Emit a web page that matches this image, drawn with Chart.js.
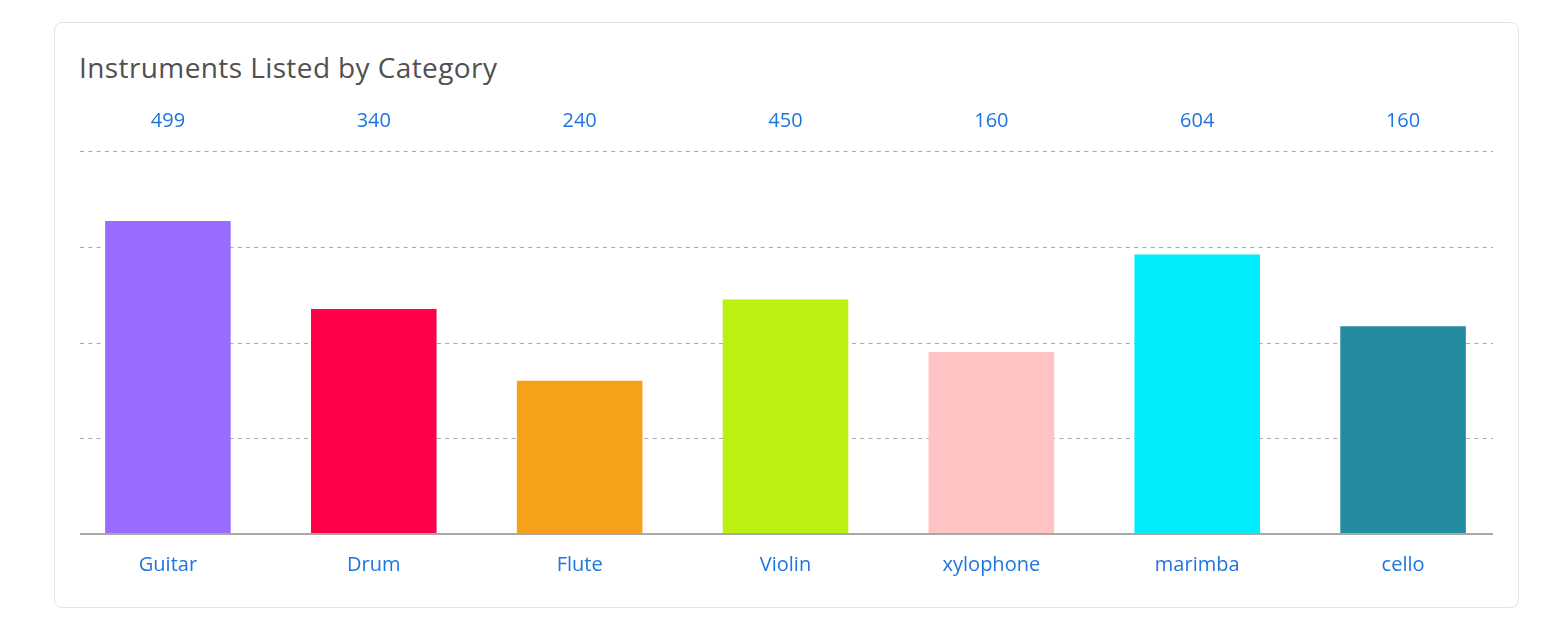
<!DOCTYPE html>
<html>
<head>
<meta charset="utf-8">
<script src="https://cdn.jsdelivr.net/npm/chart.js@4"></script>
<style>
  html, body { margin: 0; padding: 0; background: #ffffff; }
  body { width: 1558px; height: 639px; position: relative; overflow: hidden; font-family: "Open Sans", "Noto Sans", sans-serif; }
  #card { position: absolute; left: 54px; top: 22px; width: 1465px; height: 586px; box-sizing: border-box; border: 1.5px solid #e4e4e4; border-radius: 8px; background: #fff; }
  #title { position: absolute; left: 79px; top: 50px; font-size: 28px; line-height: 34px; color: #505050; font-weight: 500; letter-spacing: 0.4px; white-space: nowrap; }
  #wrap { position: absolute; left: 54px; top: 22px; width: 1464px; height: 585px; }
</style>
</head>
<body>
<div id="card"></div>
<div id="title">Instruments Listed by Category</div>
<div id="wrap"><canvas id="c"></canvas></div>
<script>
const categories = ["Guitar", "Drum", "Flute", "Violin", "xylophone", "marimba", "cello"];
const topLabels = ["499", "340", "240", "450", "160", "604", "160"];
const values = [327, 235, 160, 245, 190, 292, 217];
const barColors = ["#996cff", "#ff0049", "#f7a11a", "#bbf212", "#ffc3c3", "#00edfb", "#238ca1"];
const yTicks = [0, 100, 200, 300, 400];

const gridPlugin = {
  id: 'customGrid',
  beforeDatasetsDraw(chart) {
    const y = chart.scales.y;
    const a = chart.chartArea;
    const ctx = chart.ctx;
    ctx.save();
    ctx.strokeStyle = '#a9a9a9';
    ctx.lineWidth = 1.2;
    ctx.setLineDash([4, 4.3]);
    y.ticks.forEach(t => {
      if (t.value === yTicks[0]) return;
      const py = Math.round(y.getPixelForValue(t.value)) + 0.5;
      ctx.beginPath();
      ctx.moveTo(a.left + 15, py);
      ctx.lineTo(a.right - 13, py);
      ctx.stroke();
    });
    ctx.restore();
  },
  afterDatasetsDraw(chart) {
    const y = chart.scales.y;
    const a = chart.chartArea;
    const ctx = chart.ctx;
    ctx.save();
    ctx.strokeStyle = '#a8a8a8';
    ctx.lineWidth = 2;
    const py = y.getPixelForValue(yTicks[0]);
    ctx.beginPath();
    ctx.moveTo(a.left + 15, py);
    ctx.lineTo(a.right - 13, py);
    ctx.stroke();
    ctx.restore();
  }
};

const labelFont = { family: "'Open Sans', 'Noto Sans', sans-serif", size: 20, lineHeight: 1.2 };

new Chart(document.getElementById('c'), {
  type: 'bar',
  data: {
    labels: categories,
    datasets: [{
      data: values,
      backgroundColor: barColors,
      borderWidth: 0,
      xAxisID: 'x',
      yAxisID: 'y',
      categoryPercentage: 1,
      barPercentage: 0.61
    }]
  },
  options: {
    responsive: true,
    maintainAspectRatio: false,
    animation: false,
    layout: { padding: { top: 69, bottom: 11, left: 11, right: 12 } },
    plugins: { legend: { display: false }, tooltip: { enabled: false }, title: { display: false } },
    scales: {
      x: {
        type: 'category',
        position: 'bottom',
        offset: true,
        grid: { display: false, drawTicks: false },
        border: { display: false },
        ticks: { color: '#1f74e0', font: labelFont, padding: 19, maxRotation: 0, autoSkip: false }
      },
      x2: {
        type: 'category',
        position: 'top',
        labels: topLabels,
        offset: true,
        grid: { display: false, drawTicks: false },
        border: { display: false },
        ticks: { color: '#1f74e0', font: labelFont, padding: 18, maxRotation: 0, autoSkip: false }
      },
      y: {
        display: false,
        min: yTicks[0],
        max: yTicks[yTicks.length - 1],
        ticks: { stepSize: 100 }
      }
    }
  },
  plugins: [gridPlugin]
});
</script>
</body>
</html>
